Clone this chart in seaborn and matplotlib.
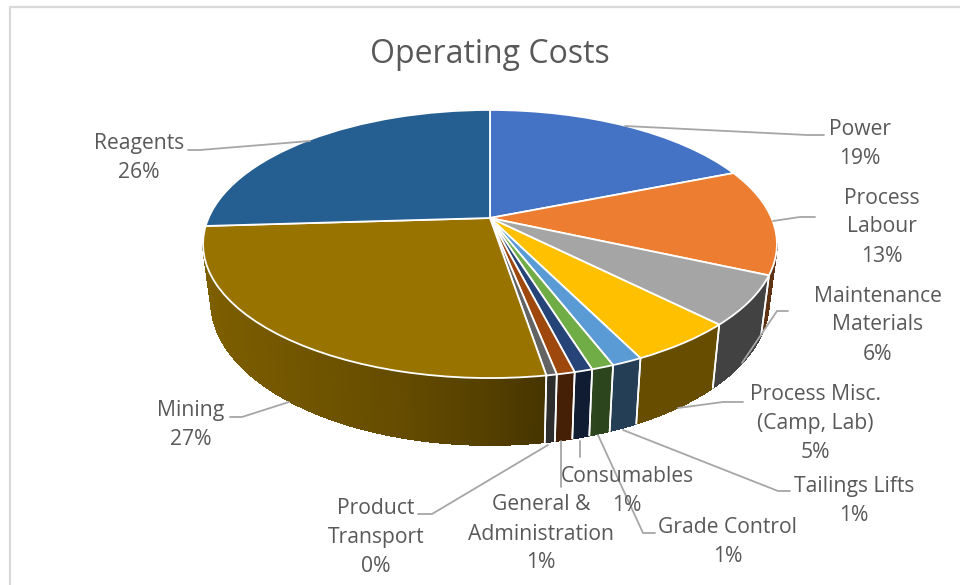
import numpy as np
import matplotlib
matplotlib.use("Agg")
import matplotlib.pyplot as plt
from matplotlib.collections import PolyCollection
from matplotlib.transforms import Transform
import seaborn as sns

# ---- data ----
categories = ["Power", "Process\nLabour", "Maintenance\nMaterials", "Process Misc.\n(Camp, Lab)",
              "Tailings Lifts", "Grade Control", "Consumables", "General &\nAdministration",
              "Product\nTransport", "Mining", "Reagents"]
values = [18.9, 12.8, 5.9, 5.1, 1.45, 1.05, 0.85, 0.85, 0.49, 26.6, 25.96]
percent_labels = ["19%", "13%", "6%", "5%", "1%", "1%", "1%", "1%", "0%", "27%", "26%"]
top_colors = ["#4472C4", "#ED7D31", "#A5A5A5", "#FFC000", "#5B9BD5", "#70AD47",
              "#264478", "#9E480E", "#636363", "#997300", "#255E91"]

# ---- layout (pixel space of the 960x585 canvas) ----
label_xy = [(860, 142), (882, 225), (878, 323), (815, 421), (854, 499), (728, 540),
            (627, 489), (541, 532), (376, 536), (191, 423), (139, 156)]
leaders = [[(625, 126), (807, 135), (824, 135)],
           [(773, 221), (800, 217), (815, 217)],
           [(742, 363), (777, 311), (788, 311)],
           [(678, 408), (723, 402), (743, 402)],
           [(623, 430), (778, 491), (790, 491)],
           [(598, 435), (643, 533), (655, 533)],
           [(580, 441), (580, 457)],
           [(561, 441), (561, 487)],
           [(548, 445), (432, 514), (418, 514)],
           [(289, 402), (242, 417), (230, 417)],
           [(310, 141), (200, 150), (188, 150)]]
CX, CY, C_X, A_Y, K = 490.0, 218.0, 281.5, 129.0, 0.194
LINE_PITCH = 29.0
TEXT = "#595959"
LINE = "#A6A6A6"


class TiltTransform(Transform):
    """Perspective view of the unit-radius pie on the canvas."""
    input_dims = output_dims = 2
    is_separable = False
    has_inverse = False

    def transform_non_affine(self, pts):
        pts = np.asarray(pts, dtype=float)
        den = 1 + K * pts[:, 1]
        return np.column_stack([CX + C_X * pts[:, 0] / den, CY - A_Y * pts[:, 1] / den])


tilt = TiltTransform()


def rim(deg):
    t = np.radians(deg)
    return tilt.transform_non_affine(np.column_stack([np.cos(t), np.sin(t)]))


def base(p):
    return np.column_stack([CX + (p[:, 0] - CX) * 0.972,
                            p[:, 1] + 59 + (p[:, 1] - 265) * 0.07])


def wall_shade(x):
    return np.interp(x, [204, 300, 400, 490, 540, 600, 800],
                     [0.82, 0.74, 0.66, 0.55, 0.47, 0.40, 0.40])


sns.set_theme(style="white")
plt.rcParams["font.family"] = ["Open Sans", "DejaVu Sans"]
palette = sns.color_palette(top_colors)

fig = plt.figure(figsize=(9.6, 5.85), dpi=100, facecolor="white")
ax = fig.add_axes([0, 0, 1, 1])

wedges, _ = ax.pie(values, colors=palette, startangle=90, counterclock=False, radius=1,
                   wedgeprops=dict(edgecolor="white", linewidth=1.3))
ax.set_aspect("auto")
ax.set_xlim(0, 960)
ax.set_ylim(585, 0)
ax.axis("off")

# visible front of the rim runs between the right and left silhouette points
FRONT_LO, FRONT_HI = 191.0, 349.0
for w, col in zip(wedges, palette):
    w.set_transform(tilt + ax.transData)
    w.set_zorder(3)
    t1, t2 = w.theta1, w.theta2
    # bring wedge angles into 0..360 for the comparison with the visible range
    while t1 < 0:
        t1 += 360
        t2 += 360
    lo, hi = max(t1, FRONT_LO), min(t2, FRONT_HI)
    if hi <= lo:
        continue
    ang = np.linspace(lo, hi, max(2, int((hi - lo) / 0.5) + 1))
    top = rim(ang)
    bot = base(top)
    polys, faces = [], []
    for i in range(len(ang) - 1):
        polys.append([top[i], top[i + 1], bot[i + 1], bot[i]])
        s = wall_shade(0.5 * (top[i, 0] + top[i + 1, 0]))
        faces.append(tuple(np.array(col) * s))
    ax.add_collection(PolyCollection(polys, facecolors=faces, edgecolors=faces,
                                     linewidths=0.6, antialiaseds=False, zorder=1))
    for a in (lo, hi):
        if a in (FRONT_LO, FRONT_HI):
            continue
        p = rim(np.array([a]))
        q = base(p)
        ax.plot([p[0, 0], q[0, 0]], [p[0, 1], q[0, 1]], color="white", lw=1.2, zorder=2)

# leader lines
for pts in leaders:
    xs, ys = zip(*pts)
    ax.plot(xs, ys, color=LINE, lw=1.3, zorder=4, solid_joinstyle="miter")

# labels, one text per line so that the line pitch is exact
for name, pct, (x, y) in zip(categories, percent_labels, label_xy):
    lines = name.split("\n") + [pct]
    for i, line in enumerate(lines):
        yy = y + (i - (len(lines) - 1) / 2) * LINE_PITCH + 7.5
        ax.text(x, yy, line, ha="center", va="baseline", color=TEXT, fontsize=15.2, zorder=5)

ax.text(490, 63, "Operating Costs", ha="center", va="baseline", color=TEXT, fontsize=23, zorder=5)

# chart-area border (top and left edges fall inside the crop)
ax.plot([10, 10, 960], [585, 7, 7], color="#D9D9D9", lw=1.6, zorder=0, clip_on=False)

fig.savefig("out.png", dpi=100, facecolor="white")
